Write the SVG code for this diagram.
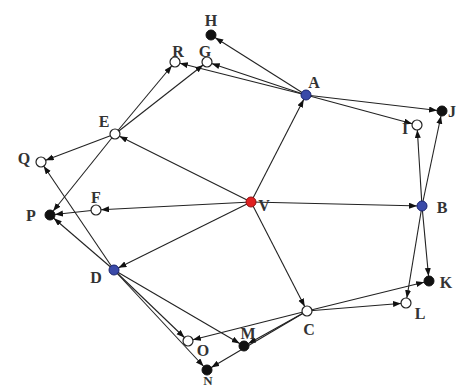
<svg xmlns="http://www.w3.org/2000/svg" width="458" height="386" viewBox="0 0 458 386">
<defs>
<marker id="ar" markerUnits="userSpaceOnUse" markerWidth="14" markerHeight="8" refX="13" refY="3" orient="auto">
<path d="M0,0 L8,3 L0,6 z" fill="#111"/>
</marker>
<style>
.e{stroke:#222;stroke-width:1.1;fill:none;marker-end:url(#ar)}
.w{fill:#fff;stroke:#222;stroke-width:1.2}
.k{fill:#111;stroke:#111;stroke-width:1}
.b{fill:#3a4aa8;stroke:#1a2470;stroke-width:1}
.r{fill:#e02020;stroke:#901010;stroke-width:1}
text{font-family:"Liberation Serif","Times New Roman",serif;font-size:16px;font-weight:bold;fill:#333;text-anchor:middle;dominant-baseline:central}
</style>
</defs>
<rect width="458" height="386" fill="#fff"/>
<g id="connectors">
<line class="e" x1="251" y1="202" x2="306" y2="95"/>
<line class="e" x1="251" y1="202" x2="422" y2="206"/>
<line class="e" x1="251" y1="202" x2="307" y2="311"/>
<line class="e" x1="251" y1="202" x2="114" y2="270"/>
<line class="e" x1="251" y1="202" x2="115" y2="134"/>
<line class="e" x1="251" y1="202" x2="96" y2="210"/>
<line class="e" x1="306" y1="95" x2="211" y2="35"/>
<line class="e" x1="306" y1="95" x2="207" y2="62"/>
<line class="e" x1="306" y1="95" x2="175" y2="62"/>
<line class="e" x1="306" y1="95" x2="442" y2="111"/>
<line class="e" x1="306" y1="95" x2="417" y2="125"/>
<line class="e" x1="115" y1="134" x2="207" y2="62"/>
<line class="e" x1="115" y1="134" x2="175" y2="62"/>
<line class="e" x1="115" y1="134" x2="41" y2="162"/>
<line class="e" x1="115" y1="134" x2="50" y2="215"/>
<line class="e" x1="96" y1="210" x2="50" y2="215"/>
<line class="e" x1="114" y1="270" x2="50" y2="215"/>
<line class="e" x1="114" y1="270" x2="41" y2="162"/>
<line class="e" x1="114" y1="270" x2="188" y2="341"/>
<line class="e" x1="114" y1="270" x2="207" y2="370"/>
<line class="e" x1="114" y1="270" x2="244" y2="346"/>
<line class="e" x1="307" y1="311" x2="188" y2="341"/>
<line class="e" x1="307" y1="311" x2="244" y2="346"/>
<line class="e" x1="307" y1="311" x2="207" y2="370"/>
<line class="e" x1="307" y1="311" x2="406" y2="303"/>
<line class="e" x1="307" y1="311" x2="429" y2="281"/>
<line class="e" x1="422" y1="206" x2="429" y2="281"/>
<line class="e" x1="422" y1="206" x2="406" y2="303"/>
<line class="e" x1="422" y1="206" x2="417" y2="125"/>
<line class="e" x1="422" y1="206" x2="442" y2="111"/>
</g>
<g id="H"><circle class="k" cx="211" cy="35" r="5"/><text x="211" y="20">H</text></g>
<g id="R"><circle class="w" cx="175" cy="62" r="5"/><text x="178" y="51">R</text></g>
<g id="G"><circle class="w" cx="207" cy="62" r="5"/><text x="205" y="51">G</text></g>
<g id="A"><circle class="b" cx="306" cy="95" r="5"/><text x="314" y="82">A</text></g>
<g id="J"><circle class="k" cx="442" cy="111" r="5"/><text x="452" y="111">J</text></g>
<g id="I"><circle class="w" cx="417" cy="125" r="5"/><text x="405" y="128">I</text></g>
<g id="E"><circle class="w" cx="115" cy="134" r="5"/><text x="104" y="121">E</text></g>
<g id="Q"><circle class="w" cx="41" cy="162" r="5"/><text x="24" y="158">Q</text></g>
<g id="F"><circle class="w" cx="96" cy="210" r="5"/><text x="96" y="197">F</text></g>
<g id="P"><circle class="k" cx="50" cy="215" r="5"/><text x="31" y="215">P</text></g>
<g id="V"><circle class="r" cx="251" cy="202" r="5"/><text x="264" y="205">V</text></g>
<g id="B"><circle class="b" cx="422" cy="206" r="5"/><text x="442" y="207">B</text></g>
<g id="D"><circle class="b" cx="114" cy="270" r="5"/><text x="96" y="277">D</text></g>
<g id="K"><circle class="k" cx="429" cy="281" r="5"/><text x="446" y="282">K</text></g>
<g id="L"><circle class="w" cx="406" cy="303" r="5"/><text x="420" y="313">L</text></g>
<g id="C"><circle class="w" cx="307" cy="311" r="5"/><text x="309" y="329">C</text></g>
<g id="O"><circle class="w" cx="188" cy="341" r="5"/><text x="203" y="350">O</text></g>
<g id="M"><circle class="k" cx="244" cy="346" r="5"/><text x="248" y="333">M</text></g>
<g id="N"><circle class="k" cx="207" cy="370" r="5"/><text x="208" y="380" style="font-size:13px">N</text></g>
</svg>
